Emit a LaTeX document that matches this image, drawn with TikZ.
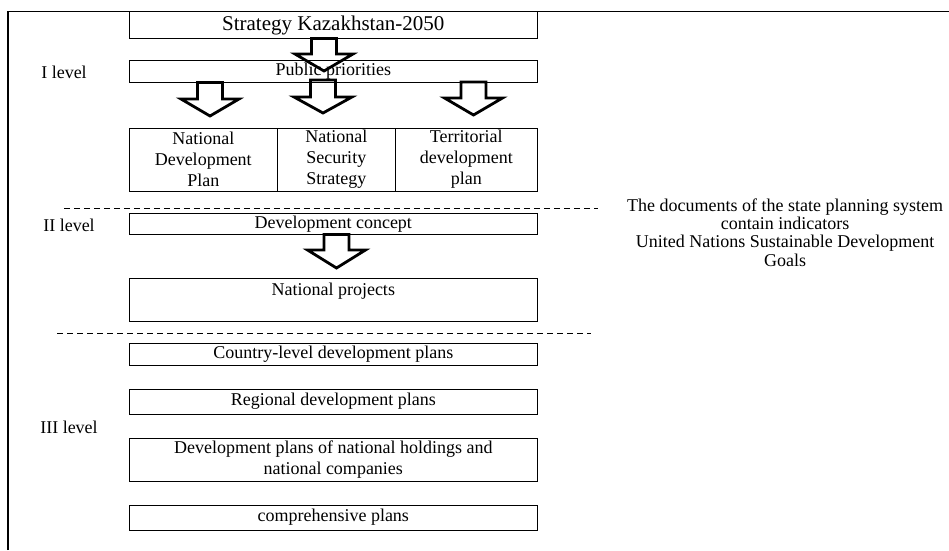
\documentclass[tikz,border=0pt]{standalone}
\usepackage{fontspec}
\setmainfont{Liberation Serif}
\usepackage{tikz}
\tikzset{
    planbox/.style={draw, line width=1pt, inner sep=0pt, align=center,
        font=\fontsize{18}{21}\selectfont},
    levellabel/.style={font=\fontsize{18}{18.4}\selectfont},
    blockarrow/.style={line width=2.8pt, line join=miter},
    levelline/.style={line width=1pt, dash pattern=on 6pt off 4pt}
}

\begin{document}
\begin{tikzpicture}[x=1pt, y=-1pt]
    \useasboundingbox (0,0) rectangle (949,550);

    % Draw outer frame
    \draw[line width=1.2pt] (8,550) -- (8,11.7) -- (949,11.7);

    % Level I boxes
    \node[planbox, minimum width=408.5pt, minimum height=26.5pt,
        font=\fontsize{21}{24}\selectfont] (strategy) at (333.25,25) {Strategy Kazakhstan-2050};
    \node[planbox, minimum width=408.5pt, minimum height=21.5pt] (publicprio) at (333.25,71.5) {Public priorities};
    \node[planbox, minimum width=148.5pt, minimum height=63pt] (natdevplan) at (203.25,159.5) {National\\Development\\Plan};
    \node[planbox, minimum width=117.5pt, minimum height=63pt] (natsecstrat) at (336.25,159.5) {National\\Security\\Strategy};
    \node[planbox, minimum width=142.5pt, minimum height=63pt] (terrdevplan) at (466.25,159.5) {Territorial\\development\\plan};

    % Level II boxes
    \node[planbox, minimum width=408.5pt, minimum height=21pt] (devconcept) at (333.25,224) {Development concept};
    \node[planbox, minimum width=408.5pt, minimum height=42.5pt] (natprojects) at (333.25,299.75) {National projects\\ ~};

    % Level III boxes
    \node[planbox, minimum width=408.5pt, minimum height=21.5pt] (countryplans) at (333.25,354.25) {Country-level development plans};
    \node[planbox, minimum width=408.5pt, minimum height=25pt] (regionplans) at (333.25,401.5) {Regional development plans};
    \node[planbox, minimum width=408.5pt, minimum height=43pt] (holdingplans) at (333.25,459.75) {Development plans of national holdings and\\national companies};
    \node[planbox, minimum width=408.5pt, minimum height=25pt] (comprplans) at (333.25,517.5) {comprehensive plans};

    % Level labels
    \node[levellabel] (levelI) at (64,72) {I level};
    \node[levellabel] (levelII) at (69,225.5) {II level};
    \node[levellabel] (levelIII) at (69,427) {III level};

    % Note on the right
    \node[levellabel, align=center] (sdgnote) at (785,232.5) {The documents of the state planning system\\contain indicators\\United Nations Sustainable Development\\Goals};

    % Dashed separators between levels
    \draw[levelline] (64,208) -- (598,208);
    \draw[levelline] (57,333) -- (591,333);

    % Block arrows (centre x / shaft top / head / tip)
    \foreach \xc/\ys/\yh/\yt in {324/38.5/54/71, 210/82.5/99/116, 323/80/97/113, 473.5/82/98/115, 336.5/234.5/250/268} {
        \draw[blockarrow] (\xc-12.5,\ys) -- (\xc-12.5,\yh) -- (\xc-29,\yh) -- (\xc,\yt)
            -- (\xc+29,\yh) -- (\xc+12.5,\yh) -- (\xc+12.5,\ys) -- cycle;
    }
\end{tikzpicture}
\end{document}
